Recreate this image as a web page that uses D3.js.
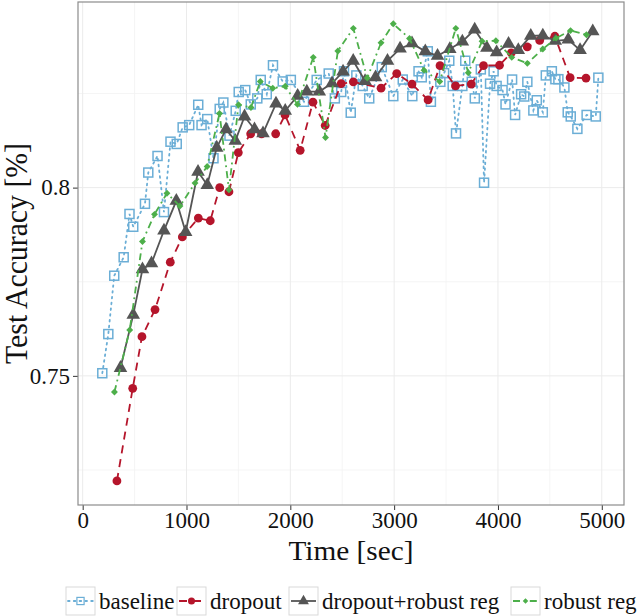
<!DOCTYPE html>
<html>
<head>
<meta charset="utf-8">
<script src="https://d3js.org/d3.v7.min.js"></script>
<style>
  body { margin: 0; background: #fff; }
  svg { font-family: "Liberation Serif", "Times New Roman", serif; }
</style>
</head>
<body>
<script>
// values
const seriesNames = ["baseline", "dropout", "dropout+robust reg", "robust reg"]
const xTickValues = [0, 1000, 2000, 3000, 4000, 5000]
const yTickValues = [0.75, 0.8]

const baselineTime = [189, 247, 304, 395, 451, 487, 600, 632, 721, 783, 846, 906, 963, 1026, 1113, 1145, 1200, 1260, 1320, 1355,
  1414, 1474, 1503, 1566, 1619, 1682, 1715, 1773, 1833, 1927, 2005, 2132, 2254, 2370, 2429, 2490, 2517, 2582, 2636, 2697,
  2760, 2881, 2992, 3083, 3175, 3235, 3266, 3324, 3354, 3445, 3481, 3531, 3564, 3596, 3657, 3685, 3748, 3777, 3835, 3866,
  3924, 3958, 3987, 4044, 4073, 4136, 4165, 4223, 4253, 4283, 4341, 4374, 4432, 4461, 4519, 4553, 4582, 4640, 4672, 4701,
  4765, 4854, 4942, 4967]
const baselineAcc = [0.7507, 0.7611, 0.7766, 0.7815, 0.7930, 0.7896, 0.7957, 0.8040, 0.8084, 0.7935, 0.8122, 0.8116, 0.8160, 0.8166, 0.8220, 0.8166, 0.8182, 0.8078, 0.8209, 0.8226,
  0.8138, 0.8204, 0.8254, 0.8259, 0.8221, 0.8237, 0.8286, 0.8248, 0.8325, 0.8282, 0.8286, 0.8228, 0.8286, 0.8303, 0.8237, 0.8254, 0.8309, 0.8199, 0.8298, 0.8270,
  0.8237, 0.8320, 0.8243, 0.8287, 0.8243, 0.8309, 0.8293, 0.8362, 0.8228, 0.8281, 0.8304, 0.8337, 0.8270, 0.8144, 0.8270, 0.8337, 0.8281, 0.8237, 0.8314, 0.8013,
  0.8276, 0.8309, 0.8270, 0.8259, 0.8221, 0.8287, 0.8193, 0.8248, 0.8242, 0.8281, 0.8205, 0.8232, 0.8200, 0.8298, 0.8309, 0.8288, 0.8288, 0.8266, 0.8200, 0.8189,
  0.8156, 0.8193, 0.8189, 0.8292]

const dropoutTime = [330, 482, 571, 697, 844, 960, 1114, 1229, 1320, 1409, 1499, 1618, 1723, 1859, 1949, 2095, 2218, 2336, 2490, 2607,
  2874, 3025, 3172, 3327, 3442, 3591, 3743, 3861, 4015, 4128, 4282, 4402, 4548, 4695, 4848]
const dropoutAcc = [0.7221, 0.7467, 0.7604, 0.7676, 0.7802, 0.7869, 0.7919, 0.7912, 0.8000, 0.7989, 0.8093, 0.8143, 0.8143, 0.8143, 0.8193, 0.8099, 0.8227, 0.8165, 0.8276, 0.8281,
  0.8264, 0.8303, 0.8275, 0.8233, 0.8324, 0.8270, 0.8275, 0.8324, 0.8325, 0.8358, 0.8374, 0.8391, 0.8402, 0.8292, 0.8291]

const dropRobustTime = [364, 487, 576, 663, 783, 902, 992, 1111, 1200, 1291, 1381, 1470, 1559, 1655, 1737, 1862, 1951, 2071, 2159, 2279,
  2402, 2508, 2606, 2720, 2821, 2936, 3057, 3172, 3300, 3418, 3536, 3657, 3776, 3893, 3987, 4102, 4196, 4316, 4432, 4552,
  4677, 4791, 4913]
const dropRobustAcc = [0.7521, 0.7662, 0.7783, 0.7799, 0.7886, 0.7965, 0.7882, 0.8042, 0.8007, 0.8106, 0.8155, 0.8124, 0.8189, 0.8155, 0.8144, 0.8223, 0.8204, 0.8244, 0.8255, 0.8255,
  0.8277, 0.8308, 0.8337, 0.8283, 0.8293, 0.8337, 0.8369, 0.8383, 0.8362, 0.8350, 0.8368, 0.8388, 0.8420, 0.8371, 0.8359, 0.8382, 0.8365, 0.8403, 0.8404, 0.8390,
  0.8393, 0.8365, 0.8415]

const robustTime = [306, 453, 576, 692, 812, 937, 1082, 1199, 1318, 1409, 1501, 1621, 1711, 1831, 1951, 2069, 2221, 2339, 2458, 2607,
  2741, 2874, 2992, 3148, 3288, 3439, 3594, 3714, 3847, 3980, 4133, 4283, 4432, 4560, 4699, 4852]
const robustAcc = [0.7457, 0.7622, 0.7857, 0.7929, 0.7985, 0.7951, 0.8012, 0.8056, 0.8197, 0.7994, 0.8220, 0.8213, 0.8282, 0.8264, 0.8269, 0.8221, 0.8346, 0.8133, 0.8363, 0.8423,
  0.8291, 0.8385, 0.8435, 0.8396, 0.8312, 0.8282, 0.8423, 0.8305, 0.8389, 0.8390, 0.8346, 0.8330, 0.8368, 0.8397, 0.8417, 0.8406]

const W = 638, H = 616
const panel = { left: 78, top: 2, right: 624, bottom: 505 }

const svg = d3.select("body").append("svg")
  .attr("width", W)
  .attr("height", H)

const x = d3.scaleLinear().domain([-45, 5214]).range([panel.left, panel.right])
const y = d3.scaleLinear().domain([0.7157, 0.8493]).range([panel.bottom, panel.top])

// grid
const grid = svg.append("g")
grid.selectAll(".vminor").data(d3.range(500, 5001, 1000)).enter().append("line")
  .attr("x1", d => x(d)).attr("x2", d => x(d))
  .attr("y1", panel.top).attr("y2", panel.bottom)
  .attr("stroke", "#f3f3f3").attr("stroke-width", 0.8)
grid.selectAll(".hminor").data([0.725, 0.775, 0.825]).enter().append("line")
  .attr("x1", panel.left).attr("x2", panel.right)
  .attr("y1", d => y(d)).attr("y2", d => y(d))
  .attr("stroke", "#f3f3f3").attr("stroke-width", 0.8)
grid.selectAll(".vmajor").data(xTickValues).enter().append("line")
  .attr("x1", d => x(d)).attr("x2", d => x(d))
  .attr("y1", panel.top).attr("y2", panel.bottom)
  .attr("stroke", "#ebebeb").attr("stroke-width", 1)
grid.selectAll(".hmajor").data(yTickValues).enter().append("line")
  .attr("x1", panel.left).attr("x2", panel.right)
  .attr("y1", d => y(d)).attr("y2", d => y(d))
  .attr("stroke", "#ebebeb").attr("stroke-width", 1)

// axes
const xAxis = d3.axisBottom(x).tickValues(xTickValues).tickSize(5).tickPadding(2).tickFormat(d3.format("d"))
svg.append("g")
  .attr("transform", "translate(0," + panel.bottom + ")")
  .call(xAxis)
  .call(g => g.select(".domain").remove())
  .call(g => g.selectAll("text").attr("font-size", 23).attr("fill", "#111").attr("font-family", "Liberation Serif"))
  .call(g => g.selectAll("line").attr("stroke", "#333"))

const yAxis = d3.axisLeft(y).tickValues(yTickValues).tickSize(5).tickPadding(3).tickFormat(d => String(d))
svg.append("g")
  .attr("transform", "translate(" + panel.left + ",0)")
  .call(yAxis)
  .call(g => g.select(".domain").remove())
  .call(g => g.selectAll("text").attr("font-size", 23).attr("fill", "#111").attr("font-family", "Liberation Serif"))
  .call(g => g.selectAll("line").attr("stroke", "#333"))

svg.append("text")
  .attr("x", (panel.left + panel.right) / 2)
  .attr("y", 560)
  .attr("text-anchor", "middle")
  .attr("font-size", 28)
  .attr("textLength", 125)
  .attr("lengthAdjust", "spacingAndGlyphs")
  .attr("fill", "#111")
  .text("Time [sec]")

svg.append("text")
  .attr("transform", "translate(27," + (panel.top + panel.bottom) / 2 + ") rotate(-90)")
  .attr("text-anchor", "middle")
  .attr("font-size", 31)
  .attr("textLength", 221)
  .attr("lengthAdjust", "spacingAndGlyphs")
  .attr("fill", "#111")
  .text("Test Accuracy [%]")

// series
const styles = [
  { color: "#6baed6", dash: "1.6,4.2", width: 1.8, cap: "round", shape: "square" },
  { color: "#b5152b", dash: "8,6", width: 1.8, cap: "butt", shape: "circle" },
  { color: "#555555", dash: null, width: 1.8, cap: "butt", shape: "triangle" },
  { color: "#4daf4a", dash: "7,4,1.8,4", width: 1.8, cap: "butt", shape: "diamond" }
]
const series = [
  d3.zip(baselineTime, baselineAcc),
  d3.zip(dropoutTime, dropoutAcc),
  d3.zip(dropRobustTime, dropRobustAcc),
  d3.zip(robustTime, robustAcc)
]

const line = d3.line().x(d => x(d[0])).y(d => y(d[1]))

function marker(sel, st) {
  if (st.shape === "square") {
    sel.append("rect").attr("x", -4.5).attr("y", -4.5).attr("width", 9).attr("height", 9)
      .attr("fill", "none").attr("stroke", st.color).attr("stroke-width", 1.5)
  } else if (st.shape === "circle") {
    sel.append("circle").attr("r", 4.4).attr("fill", st.color)
  } else if (st.shape === "triangle") {
    sel.append("path").attr("d", d3.symbol(d3.symbolTriangle, 80)()).attr("fill", st.color)
  } else {
    sel.append("path").attr("d", d3.symbol(d3.symbolSquare, 24)()).attr("transform", "rotate(45)").attr("fill", st.color)
  }
}

const plot = svg.append("g")
series.forEach((data, i) => {
  const st = styles[i]
  plot.append("path")
    .datum(data)
    .attr("d", line)
    .attr("fill", "none")
    .attr("stroke", st.color)
    .attr("stroke-width", st.width)
    .attr("stroke-linecap", st.cap)
    .attr("stroke-dasharray", st.dash)
  plot.selectAll(".m" + i).data(data).enter().append("g")
    .attr("class", "m" + i)
    .attr("transform", d => "translate(" + x(d[0]) + "," + y(d[1]) + ")")
    .each(function() { marker(d3.select(this), st) })
})

// panel border
svg.append("rect")
  .attr("x", panel.left).attr("y", panel.top)
  .attr("width", panel.right - panel.left).attr("height", panel.bottom - panel.top)
  .attr("fill", "none").attr("stroke", "#8c8c8c").attr("stroke-width", 1.2)

// legend
const legendX = [66, 177, 289, 511]
const legend = svg.append("g")
seriesNames.forEach((name, i) => {
  const st = styles[i]
  const g = legend.append("g").attr("transform", "translate(" + legendX[i] + ",587)")
  g.append("rect").attr("width", 29).attr("height", 28)
    .attr("fill", "#fff").attr("stroke", "#d9d9d9").attr("stroke-width", 1)
  g.append("line").attr("x1", 2).attr("x2", 27).attr("y1", 14).attr("y2", 14)
    .attr("stroke", st.color).attr("stroke-width", st.width)
    .attr("stroke-linecap", st.cap)
    .attr("stroke-dasharray", st.dash)
  const m = g.append("g").attr("transform", "translate(14.5,14) scale(0.8)")
  marker(m, st)
  g.append("text").attr("x", 33).attr("y", 14).attr("dy", "0.33em")
    .attr("font-size", 23).attr("fill", "#111").text(name)
})
</script>
</body>
</html>
